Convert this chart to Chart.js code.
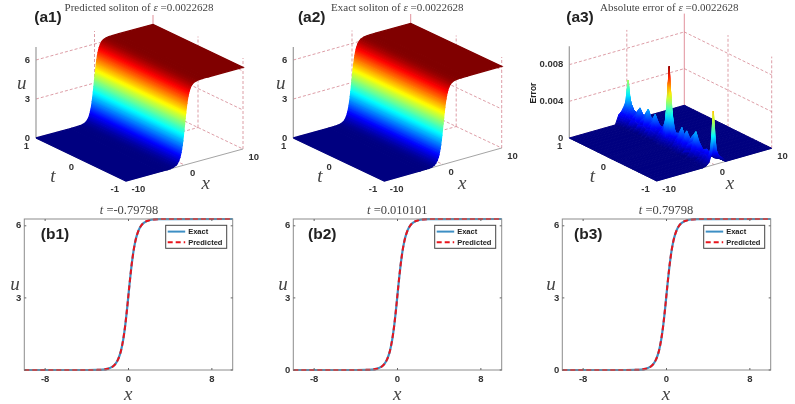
<!DOCTYPE html>
<html>
<head>
<meta charset="utf-8">
<title>soliton</title>
<script src="https://cdn.jsdelivr.net/npm/chart.js@4"></script>
<style>
  html, body { margin: 0; padding: 0; background: #fff; }
  #page { position: relative; width: 795px; height: 404px; overflow: hidden; }
  canvas { position: absolute; filter: blur(0.4px); }
</style>
</head>
<body>
<div id="page">
  <canvas id="a1" width="265" height="200" style="left:0;top:0"></canvas>
  <canvas id="a2" width="265" height="200" style="left:265px;top:0"></canvas>
  <canvas id="a3" width="265" height="200" style="left:530px;top:0"></canvas>
  <canvas id="b1" width="265" height="204" style="left:0;top:200px"></canvas>
  <canvas id="b2" width="265" height="204" style="left:265px;top:200px"></canvas>
  <canvas id="b3" width="265" height="204" style="left:530px;top:200px"></canvas>
</div>
<script>
// values
const solitonX = [-10, -4, -3, -2.5, -2, -1.5, -1.25, -1, -0.8, -0.7, -0.6, -0.5, -0.4, -0.3, -0.2, -0.1, 0,
  0.1, 0.2, 0.3, 0.4, 0.5, 0.6, 0.7, 0.8, 1, 1.25, 1.5, 2, 2.5, 3, 4, 10];
const exactU = [0, 0.001, 0.005, 0.016, 0.049, 0.147, 0.255, 0.441, 0.681, 0.845, 1.044, 1.285, 1.573, 1.909, 2.289, 2.704, 3.142,
  3.579, 3.994, 4.374, 4.71, 4.998, 5.239, 5.438, 5.602, 5.842, 6.028, 6.136, 6.234, 6.267, 6.278, 6.282, 6.283];
const predictedU = [0, 0.001, 0.006, 0.017, 0.05, 0.148, 0.256, 0.44, 0.68, 0.846, 1.046, 1.286, 1.572, 1.908, 2.29, 2.705, 3.141,
  3.578, 3.995, 4.375, 4.709, 4.997, 5.24, 5.439, 5.601, 5.841, 6.027, 6.137, 6.233, 6.266, 6.278, 6.281, 6.283];

const errX = [-10, -2, -1.4, -0.9, -0.45, 0, 0.45, 0.9, 1.4, 2, 10];
const errT = [1, 0.97, 0.94, 0.9, 0.85, 0.78, 0.7, 0.62, 0.51, 0.43, 0.35, 0.27, 0.18, 0.12, 0.08, 0.05, 0.03, 0.01,
  -0.03, -0.07, -0.12, -0.19, -0.26, -0.32, -0.37, -0.45, -0.58, -0.66, -0.75, -0.83, -0.89, -0.93, -0.96, -0.98, -1];
// error * 1000, one row per errT, columns x = -1.4 ... 1.4
const errRows = [
  [1.0, 1.3, 1.8, 2.5, 1.6, 0.8, 0.3], [0.8, 1.2, 2.0, 4.6, 1.8, 0.8, 0.3], [0.6, 1.1, 1.8, 3.0, 1.6, 0.7, 0.3],
  [0.5, 1.0, 1.6, 2.2, 1.4, 0.7, 0.2], [0.4, 0.9, 1.3, 1.7, 1.2, 0.6, 0.2], [0.4, 0.8, 1.2, 1.5, 1.1, 0.6, 0.2],
  [0.3, 0.9, 1.6, 2.2, 1.5, 0.7, 0.2], [0.3, 0.7, 1.1, 1.4, 1.0, 0.5, 0.2], [0.3, 0.9, 1.7, 2.5, 1.6, 0.7, 0.2],
  [0.3, 0.7, 1.1, 1.5, 1.0, 0.5, 0.2], [0.3, 0.8, 1.6, 2.3, 1.5, 0.6, 0.2], [0.2, 0.6, 1.0, 1.4, 0.9, 0.5, 0.1],
  [0.2, 0.6, 1.0, 1.3, 0.9, 0.4, 0.1], [0.2, 0.6, 1.1, 2.0, 1.0, 0.4, 0.1], [0.2, 0.6, 1.5, 3.8, 1.6, 0.5, 0.1],
  [0.2, 0.7, 2.6, 6.5, 2.6, 0.5, 0.1], [0.2, 0.7, 3.2, 8.3, 3.0, 0.6, 0.1], [0.2, 0.7, 2.6, 6.4, 2.5, 0.5, 0.1],
  [0.2, 0.6, 1.6, 3.6, 1.5, 0.5, 0.1], [0.2, 0.6, 1.1, 2.0, 1.0, 0.4, 0.1], [0.2, 0.5, 1.0, 1.4, 0.9, 0.4, 0.1],
  [0.2, 0.5, 1.0, 1.5, 0.9, 0.4, 0.1], [0.2, 0.7, 1.5, 2.3, 1.4, 0.5, 0.1], [0.2, 0.5, 1.1, 1.6, 1.0, 0.4, 0.1],
  [0.2, 0.6, 1.4, 2.2, 1.3, 0.5, 0.1], [0.2, 0.5, 1.0, 1.5, 0.9, 0.4, 0.1], [0.2, 0.6, 1.6, 2.6, 1.5, 0.5, 0.1],
  [0.1, 0.4, 1.0, 1.6, 0.9, 0.4, 0.1], [0.1, 0.3, 0.7, 1.0, 0.7, 0.3, 0.1], [0.1, 0.4, 0.9, 1.3, 0.8, 0.4, 0.1],
  [0.1, 0.3, 0.7, 1.0, 0.7, 0.4, 0.2], [0.1, 0.4, 0.9, 1.6, 0.8, 0.5, 0.3], [0.1, 0.4, 1.3, 3.0, 1.3, 0.6, 0.3],
  [0.1, 0.4, 1.6, 5.8, 1.6, 0.7, 0.4], [0.1, 0.4, 1.3, 3.5, 1.3, 0.8, 0.5]
];

const xTicks3d = [-10, 0, 10];
const tTicks3d = [1, 0, -1];
const uTicks3d = [0, 3, 6];
const errTicks3d = [0, 4, 8];
const errTickLabels = ["0", "0.004", "0.008"];
const lineXTicks = [-8, 0, 8];
const lineUTicks = [0, 3, 6];

const SERIF = '"Liberation Serif", serif';
const SANS = '"Liberation Sans", Arial, sans-serif';
const TICK_FONT = "bold 9.5px " + SANS;
const TAG_FONT = "bold 15.5px " + SANS;
const GRID_RED = "rgba(208,120,132,0.8)";
const AXIS_GREY = "#9a9a9a";
// a dash list keeps Chart.js off its fast path, which merges points that share a pixel column
const NO_MERGE = [9999, 1];

function clamp01(v) { return Math.max(0, Math.min(1, v)); }

function jet(v) {
  v = clamp01(v);
  const r = clamp01(1.5 - Math.abs(4 * v - 3));
  const g = clamp01(1.5 - Math.abs(4 * v - 2));
  const b = clamp01(1.5 - Math.abs(4 * v - 1));
  return `rgb(${Math.round(r * 255)},${Math.round(g * 255)},${Math.round(b * 255)})`;
}

function project(p, x, t, z) {
  const fx = (x + 10) / 20, ft = (1 - t) / 2;
  return {
    x: p.origin[0] + fx * p.xVec[0] + ft * p.tVec[0],
    y: p.origin[1] + fx * p.xVec[1] + ft * p.tVec[1] - z * p.zScale
  };
}

// options get resolved once before the layout, the scales have no size yet then
function toPixel(scale, v) {
  const q = scale ? scale.getPixelForValue(v) : v;
  return Number.isFinite(q) ? q : v;
}

function stroke(points, color, dash, width) {
  return {
    data: points, borderColor: color, borderWidth: width || 0.9, borderDash: dash || [],
    pointRadius: 0, fill: false, tension: 0
  };
}

function gridSets(p, xTicks, tTicks, zTicks) {
  const dash = [3, 2];
  const sets = [];
  const line = (a, b, c, d) => sets.push(stroke([a, b], c || GRID_RED, d === undefined ? dash : d));
  zTicks.filter(z => z !== 0).forEach(z => {
    line(project(p, -10, 1, z), project(p, 10, 1, z));
    line(project(p, 10, 1, z), project(p, 10, -1, z));
  });
  xTicks.filter(x => x !== -10).forEach(x => {
    line(project(p, x, 1, 0), project(p, x, 1, p.zTop), x === 10 ? "rgba(215,110,125,0.85)" : GRID_RED, x === 10 ? [] : dash);
    if (x !== 10) line(project(p, x, 1, 0), project(p, x, -1, 0));
  });
  tTicks.filter(t => t !== 1).forEach(t => {
    line(project(p, 10, t, 0), project(p, 10, t, p.zTop));
    if (t !== -1) line(project(p, -10, t, 0), project(p, 10, t, 0));
  });
  line(project(p, -10, 1, 0), project(p, 10, 1, 0));
  line(project(p, 10, 1, 0), project(p, 10, -1, 0));
  line(project(p, -10, -1, 0), project(p, 10, -1, 0), AXIS_GREY, []);
  line(project(p, -10, 1, 0), project(p, -10, -1, 0), AXIS_GREY, []);
  sets.push(stroke([project(p, -10, 1, 0), project(p, -10, 1, p.zTop)], AXIS_GREY, [], 1.2));
  return sets;
}

// one strip of the surface between two x positions, shaded across the strip
function solitonStrip(p, i, us) {
  const a = project(p, solitonX[i], 1, us[i]);
  const b = project(p, solitonX[i + 1], 1, us[i + 1]);
  const c = project(p, solitonX[i + 1], -1, us[i + 1]);
  const d = project(p, solitonX[i], -1, us[i]);
  const paint = ctx => {
    const sx = ctx.chart.scales.x, sy = ctx.chart.scales.y;
    const px = q => ({ x: toPixel(sx, q.x), y: toPixel(sy, q.y) });
    const pa = px(a), pb = px(b), pd = px(d);
    let nx = -(pd.y - pa.y), ny = pd.x - pa.x;
    const len = Math.hypot(nx, ny);
    nx /= len; ny /= len;
    const s = (pb.x - pa.x) * nx + (pb.y - pa.y) * ny;
    const g = ctx.chart.ctx.createLinearGradient(pa.x, pa.y, pa.x + nx * s, pa.y + ny * s);
    const u0 = us[i] / p.zColor, u1 = us[i + 1] / p.zColor;
    [0, 0.25, 0.5, 0.75, 1].forEach(f => g.addColorStop(f, jet(u0 + (u1 - u0) * f)));
    return g;
  };
  return {
    data: [a, b, c, d, a], backgroundColor: paint, borderColor: paint, borderWidth: 1.3, borderDash: NO_MERGE,
    pointRadius: 0, fill: "shape", tension: 0
  };
}

function errorCell(p, ti, xi, grid) {
  const z = [grid[ti][xi], grid[ti][xi + 1], grid[ti + 1][xi + 1], grid[ti + 1][xi]];
  const pts = [
    project(p, errX[xi], errT[ti], z[0]), project(p, errX[xi + 1], errT[ti], z[1]),
    project(p, errX[xi + 1], errT[ti + 1], z[2]), project(p, errX[xi], errT[ti + 1], z[3])
  ];
  pts.push(pts[0]);
  const lo = Math.min(...z), hi = Math.max(...z);
  const paint = ctx => {
    if (hi - lo < 0.05) return jet(hi / p.zColor);
    const sy = ctx.chart.scales.y;
    const loPt = pts[z.indexOf(lo)], hiPt = pts[z.indexOf(hi)];
    const g = ctx.chart.ctx.createLinearGradient(0, toPixel(sy, loPt.y), 0, toPixel(sy, hiPt.y));
    [0, 0.2, 0.4, 0.6, 0.8, 1].forEach(f => g.addColorStop(f, jet((lo + (hi - lo) * f) / p.zColor)));
    return g;
  };
  return {
    data: pts, backgroundColor: paint, borderColor: paint, borderWidth: 1, borderDash: NO_MERGE,
    pointRadius: 0, fill: "shape", tension: 0
  };
}

function textPlugin(items) {
  return {
    id: "panelText",
    afterDraw(chart) {
      const c = chart.ctx;
      items.forEach(it => {
        c.save();
        c.fillStyle = it.color || "#333";
        c.textBaseline = "middle";
        c.translate(it.x, it.y);
        if (it.rotate) c.rotate(it.rotate);
        const runs = it.runs || [[it.text, it.font]];
        let w = 0;
        runs.forEach(r => { c.font = r[1]; w += c.measureText(r[0]).width; });
        let x = it.align === "left" ? 0 : it.align === "right" ? -w : -w / 2;
        c.textAlign = "left";
        runs.forEach(r => {
          c.font = r[1];
          c.fillText(r[0], x, 0);
          x += c.measureText(r[0]).width;
        });
        c.restore();
      });
    }
  };
}

function titleRuns(before, sym, after) {
  const roman = "11px " + SERIF, ital = "italic 11px " + SERIF;
  return [[before, roman], [sym, ital], [after, roman]];
}

function surfaceTexts(p, conf) {
  const items = [
    { runs: titleRuns(conf.title, "ε", " =0.0022628"), x: conf.titleX, y: 8.5, color: "#444" },
    { text: conf.tag, font: TAG_FONT, x: conf.tagX, y: 18, color: "#222" },
    { text: "t", font: "italic 19px " + SERIF, x: conf.tX, y: 177, color: "#444" },
    { text: "x", font: "italic 19px " + SERIF, x: conf.xX, y: 184, color: "#444" }
  ];
  conf.zTicks.forEach((z, i) => {
    const q = project(p, -10, 1, z);
    items.push({ text: conf.zLabels[i], font: TICK_FONT, x: q.x - 6, y: q.y, align: "right" });
  });
  tTicks3d.forEach(t => {
    const q = project(p, -10, t, 0);
    items.push({ text: String(t), font: TICK_FONT, x: q.x - 7, y: q.y + 8, align: "right" });
  });
  xTicks3d.forEach(x => {
    const q = project(p, x, -1, 0);
    items.push({ text: String(x), font: TICK_FONT, x: q.x + 5.5, y: q.y + 8, align: "left" });
  });
  return items.concat(conf.extra);
}

function drawPanel3d(id, p, surface, conf) {
  const back = gridSets(p, xTicks3d, tTicks3d, conf.zTicks);
  // Chart.js paints dataset 0 last, so far-to-near is reversed here
  const datasets = back.concat(surface).reverse();
  new Chart(document.getElementById(id), {
    type: "line",
    data: { datasets },
    options: {
      responsive: false, animation: false, events: [],
      devicePixelRatio: 1,
      layout: { padding: 0 },
      plugins: { legend: { display: false }, tooltip: { enabled: false }, title: { display: false } },
      scales: {
        x: { type: "linear", display: false, min: 0, max: 265, bounds: "data" },
        y: { type: "linear", display: false, min: 0, max: 200, reverse: true, bounds: "data" }
      }
    },
    plugins: [textPlugin(surfaceTexts(p, conf))]
  });
}

const panelA1 = { origin: [36, 138], xVec: [117, -32], tVec: [90, 43], zScale: 13, zTop: 7, zColor: 6.283 };
const panelA2 = { origin: [28.3, 138], xVec: [117.4, -33], tVec: [91, 43], zScale: 13, zTop: 7, zColor: 6.283 };
const panelA3 = { origin: [39.3, 138], xVec: [115, -32.7], tVec: [87.4, 43], zScale: 9.17, zTop: 10, zColor: 8.5 };

function stripsFor(p, us) {
  const out = [];
  for (let i = solitonX.length - 2; i >= 0; i--) out.push(solitonStrip(p, i, us));
  return out;
}

drawPanel3d("a1", panelA1, stripsFor(panelA1, predictedU), {
  title: "Predicted soliton of ", titleX: 139, tag: "(a1)", tagX: 48, tX: 53, xX: 205.7,
  zTicks: uTicks3d, zLabels: uTicks3d.map(String),
  extra: [{ text: "u", font: "italic 19px " + SERIF, x: 21.7, y: 84, color: "#444" }]
});
drawPanel3d("a2", panelA2, stripsFor(panelA2, exactU), {
  title: "Exact soliton of ", titleX: 132.3, tag: "(a2)", tagX: 46.7, tX: 55, xX: 197.3,
  zTicks: uTicks3d, zLabels: uTicks3d.map(String),
  extra: [{ text: "u", font: "italic 19px " + SERIF, x: 15.7, y: 84, color: "#444" }]
});

const errGrid = errRows.map(r => [0, 0].concat(r, [0, 0]));
const errCells = [];
for (let ti = 0; ti < errT.length - 1; ti++) {
  for (let xi = errX.length - 2; xi >= 0; xi--) errCells.push(errorCell(panelA3, ti, xi, errGrid));
}
drawPanel3d("a3", panelA3, errCells, {
  title: "Absolute error of ", titleX: 139.3, tag: "(a3)", tagX: 50, tX: 62.3, xX: 200,
  zTicks: errTicks3d, zLabels: errTickLabels,
  extra: [{ text: "Error", font: "bold 8.5px " + SANS, x: 4, y: 93, rotate: -Math.PI / 2, color: "#222" }]
});

const axesBox = {
  id: "axesBox",
  afterDatasetsDraw(chart) {
    const c = chart.ctx, a = chart.chartArea;
    c.save();
    c.strokeStyle = "#8c8c8c";
    c.lineWidth = 1;
    c.strokeRect(a.left, a.top, a.right - a.left, a.bottom - a.top);
    c.strokeStyle = "#666";
    chart.scales.x.ticks.forEach(tk => {
      const px = chart.scales.x.getPixelForValue(tk.value);
      c.beginPath(); c.moveTo(px, a.bottom); c.lineTo(px, a.bottom - 2); c.moveTo(px, a.top); c.lineTo(px, a.top + 2); c.stroke();
    });
    chart.scales.y.ticks.forEach(tk => {
      const py = chart.scales.y.getPixelForValue(tk.value);
      c.beginPath(); c.moveTo(a.left, py); c.lineTo(a.left + 2, py); c.moveTo(a.right, py); c.lineTo(a.right - 2, py); c.stroke();
    });
    c.restore();
  }
};

const legendBox = {
  id: "legendBox",
  afterDraw(chart) {
    const c = chart.ctx, a = chart.chartArea;
    const w = 61, h = 23, left = a.right - 6 - w, top = a.top + 6.3;
    c.save();
    c.fillStyle = "#fff";
    c.fillRect(left, top, w, h);
    c.strokeStyle = "#444";
    c.lineWidth = 1;
    c.strokeRect(left, top, w, h);
    c.font = "bold 7.5px " + SANS;
    c.textBaseline = "middle";
    chart.data.datasets.slice().reverse().forEach((ds, i) => {
      const y = top + 6.3 + i * 10.6;
      c.strokeStyle = ds.borderColor;
      c.lineWidth = 2;
      c.setLineDash(ds.borderDash || []);
      c.beginPath(); c.moveTo(left + 2, y); c.lineTo(left + 19.5, y); c.stroke();
      c.setLineDash([]);
      c.fillStyle = "#222";
      c.fillText(ds.label, left + 22.5, y + 0.3);
    });
    c.restore();
  }
};

function drawPanelLine(id, plotLeft, plotRight, showZero, texts) {
  const points = us => solitonX.map((x, i) => ({ x, y: us[i] }));
  new Chart(document.getElementById(id), {
    type: "line",
    data: {
      datasets: [
        { label: "Predicted", data: points(predictedU), borderColor: "#e8141c", borderWidth: 2, borderDash: [5, 3], pointRadius: 0, cubicInterpolationMode: "monotone", clip: false },
        { label: "Exact", data: points(exactU), borderColor: "#3d8fc4", borderWidth: 2.2, pointRadius: 0, cubicInterpolationMode: "monotone", clip: false }
      ]
    },
    options: {
      responsive: false, animation: false, events: [],
      devicePixelRatio: 1,
      layout: { padding: { top: 19, right: 265 - plotRight, left: 0, bottom: 0 } },
      plugins: { legend: { display: false }, tooltip: { enabled: false } },
      scales: {
        x: {
          type: "linear", min: -10, max: 10, bounds: "data",
          grid: { display: false, drawTicks: false, tickLength: 0 }, border: { display: false },
          afterBuildTicks: s => { s.ticks = lineXTicks.map(value => ({ value })); },
          afterFit: s => { s.height = 34; },
          ticks: { font: { family: SANS, size: 9.5, weight: "bold" }, color: "#333", padding: 4, maxRotation: 0, autoSkip: false }
        },
        y: {
          type: "linear", min: 0, max: 6.2832, bounds: "data",
          grid: { display: false, drawTicks: false, tickLength: 0 }, border: { display: false },
          afterBuildTicks: s => { s.ticks = lineUTicks.map(value => ({ value })); },
          afterFit: s => { s.width = plotLeft; },
          ticks: {
            font: { family: SANS, size: 9.5, weight: "bold" }, color: "#333", padding: 3, autoSkip: false,
            callback: v => (v === 0 && !showZero ? "" : String(v))
          }
        }
      }
    },
    plugins: [axesBox, legendBox, textPlugin(texts)]
  });
}

function lineTexts(sym, val, titleX, tag, tagX, uX, xX) {
  const roman = "12.5px " + SERIF, ital = "italic 12.5px " + SERIF;
  return [
    { runs: [[sym, ital], [val, roman]], x: titleX, y: 10.5, color: "#444" },
    { text: tag, font: TAG_FONT, x: tagX, y: 34.5, color: "#222" },
    { text: "u", font: "italic 19px " + SERIF, x: uX, y: 85, color: "#444" },
    { text: "x", font: "italic 19px " + SERIF, x: xX, y: 194.5, color: "#444" }
  ];
}

drawPanelLine("b1", 24.3, 232.7, false, lineTexts("t", " =-0.79798", 129, "(b1)", 55, 15, 128.3));
drawPanelLine("b2", 28.3, 236.7, true, lineTexts("t", " =0.010101", 132.3, "(b2)", 57.3, 18, 132.3));
drawPanelLine("b3", 32.3, 240.7, true, lineTexts("t", " =0.79798", 136, "(b3)", 58.3, 21, 136));
</script>
</body>
</html>
